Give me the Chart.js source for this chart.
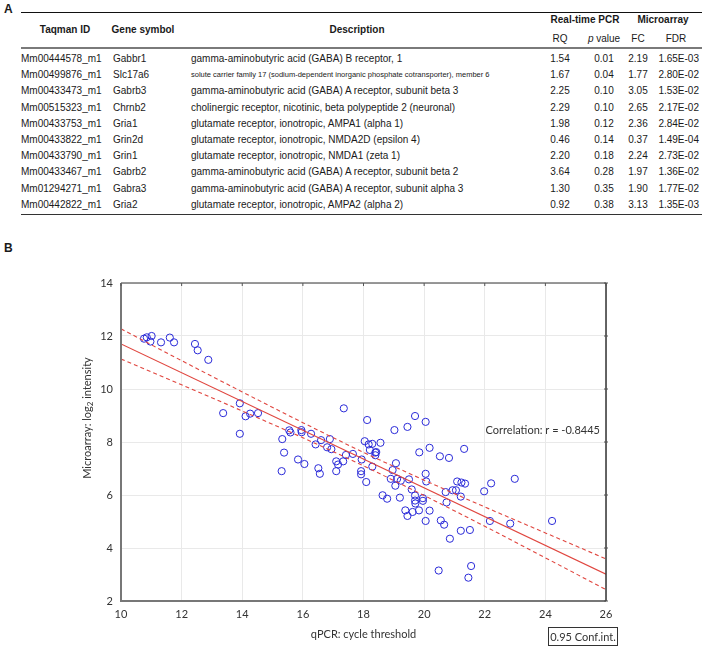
<!DOCTYPE html>
<html><head><meta charset="utf-8">
<script src="https://cdn.jsdelivr.net/npm/chart.js@4.4.1/dist/chart.umd.min.js"></script>
<style>
body{margin:0;width:705px;height:648px;position:relative;background:#fff;font-family:"Liberation Sans",Arial,sans-serif;color:#1a1a1a;overflow:hidden}
.t{position:absolute;font-size:10px;line-height:12px;white-space:nowrap}
.b{font-weight:bold}
.rule{position:absolute;left:21px;width:681px}
#wrap{position:absolute;left:0;top:250px;width:705px;height:398px}
</style></head><body>
<div id="tbl"></div>
<div id="wrap"><canvas id="c" width="705" height="398"></canvas></div>
<script>
// ---------- Table data ----------
const taqmanIds = ["Mm00444578_m1","Mm00499876_m1","Mm00433473_m1","Mm00515323_m1","Mm00433753_m1","Mm00433822_m1","Mm00433790_m1","Mm00433467_m1","Mm01294271_m1","Mm00442822_m1"];
const geneSymbols = ["Gabbr1","Slc17a6","Gabrb3","Chrnb2","Gria1","Grin2d","Grin1","Gabrb2","Gabra3","Gria2"];
const descriptions = [
 "gamma-aminobutyric acid (GABA) B receptor, 1",
 "solute carrier family 17 (sodium-dependent inorganic phosphate cotransporter), member 6",
 "gamma-aminobutyric acid (GABA) A receptor, subunit beta 3",
 "cholinergic receptor, nicotinic, beta polypeptide 2 (neuronal)",
 "glutamate receptor, ionotropic, AMPA1 (alpha 1)",
 "glutamate receptor, ionotropic, NMDA2D (epsilon 4)",
 "glutamate receptor, ionotropic, NMDA1 (zeta 1)",
 "gamma-aminobutyric acid (GABA) A receptor, subunit beta 2",
 "gamma-aminobutyric acid (GABA) A receptor, subunit alpha 3",
 "glutamate receptor, ionotropic, AMPA2 (alpha 2)"];
const rqValues = ["1.54","1.67","2.25","2.29","1.98","0.46","2.20","3.64","1.30","0.92"];
const pValues = ["0.01","0.04","0.10","0.10","0.12","0.14","0.18","0.28","0.35","0.38"];
const fcValues = ["2.19","1.77","3.05","2.65","2.36","0.37","2.24","1.97","1.90","3.13"];
const fdrValues = ["1.65E-03","2.80E-02","1.53E-02","2.17E-02","2.84E-02","1.49E-04","2.73E-02","1.36E-02","1.77E-02","1.35E-03"];

// ---------- Scatter data ----------
const qpcrCt = [10.76,10.85,11.01,10.97,11.32,11.61,11.75,12.44,12.53,12.88,
 13.37,13.92,13.92,14.11,14.26,14.52,15.30,15.32,15.38,15.55,15.59,15.84,15.95,15.96,16.05,16.27,16.42,16.51,16.56,16.60,
 16.80,16.89,16.94,17.10,17.10,17.16,17.33,17.35,17.42,17.65,17.94,17.92,17.92,18.04,18.09,18.12,18.17,18.21,18.29,18.29,
 18.39,18.39,18.42,18.56,19.02,19.45,20.05,19.70,19.07,18.96,18.90,18.63,18.78,19.11,19.23,19.05,19.20,19.50,19.59,19.84,
 20.05,20.07,20.18,19.70,19.70,19.71,19.96,19.96,19.38,19.45,19.62,19.83,20.18,20.05,20.52,20.82,21.32,20.55,20.66,20.71,
 20.74,20.85,20.94,21.05,21.09,21.23,21.35,21.21,21.21,21.51,21.98,22.21,22.17,22.84,22.99,24.22,20.48,21.55,21.46];
const microarrayLog2 = [11.90,11.95,12.00,11.79,11.76,11.94,11.76,11.70,11.46,11.10,
 9.09,9.46,8.31,8.97,9.07,9.09,6.90,8.11,7.60,8.44,8.36,7.34,8.45,8.37,7.17,8.31,7.91,7.01,6.80,8.07,
 7.80,8.11,7.73,7.27,6.90,7.15,7.27,9.27,7.51,7.55,7.34,6.90,6.78,8.03,6.49,8.83,7.91,7.70,7.93,7.07,
 7.60,7.50,7.62,7.97,8.45,8.57,8.76,8.98,7.20,6.94,6.61,5.99,5.86,6.61,6.54,6.35,5.90,6.59,6.21,7.61,
 6.80,6.51,7.78,5.98,5.79,5.68,5.88,5.78,5.42,5.21,5.36,5.42,5.41,5.02,7.46,7.40,7.74,5.04,4.88,6.11,
 5.72,4.35,6.18,6.18,6.51,6.47,6.43,5.94,4.65,4.68,6.14,6.44,5.02,4.92,6.61,5.02,3.15,3.32,2.88];
const fitX = [10, 26];
const fitY = [11.70, 3.01];
const bandX = [10,12,14,16,18,20,22,24,26];
const bandUpper = [12.27,11.07,9.89,8.73,7.61,6.56,5.55,4.57,3.59];
const bandLower = [11.13,10.16,9.17,8.16,7.10,5.98,4.82,3.63,2.43];
const xTicks = [10,12,14,16,18,20,22,24,26];
const yTicks = [2,4,6,8,10,12,14];
const correlationLabel = "Correlation: r = -0.8445";
const legendLabel = "0.95 Conf.int.";
const xTitle = "qPCR: cycle threshold";
const yTitleParts = ["Microarray: log", "2", " intensity"];

// ---------- Build table ----------
const tbl = document.getElementById('tbl');
function addText(html, x, y, align, cls, style){
  const d = document.createElement('div');
  d.className = 't ' + (cls||'');
  d.innerHTML = html;
  let tx = align==='center' ? '-50%' : (align==='right' ? '-100%' : '0');
  d.style.left = x + 'px'; d.style.top = y + 'px';
  d.style.transform = `translate(${tx},-50%)`;
  if (style) Object.assign(d.style, style);
  tbl.appendChild(d);
}
function addRule(y, h, color){
  const d = document.createElement('div');
  d.className='rule'; d.style.top = y+'px'; d.style.height = h+'px'; d.style.background = color;
  tbl.appendChild(d);
}
addText('A', 4, 9, 'left', 'b', {fontSize:'12px'});
addText('B', 4, 248, 'left', 'b', {fontSize:'12px'});
addRule(12, 1.3, '#111');
addText('Taqman ID', 65, 30, 'center', 'b');
addText('Gene symbol', 143, 30, 'center', 'b');
addText('Description', 357, 30, 'center', 'b');
addText('Real-time PCR', 585, 20, 'center', 'b');
addText('Microarray', 663, 20, 'center', 'b');
addText('RQ', 560, 39, 'center');
addText('<i>p</i> value', 604, 39, 'center');
addText('FC', 638, 39, 'center');
addText('FDR', 676, 39, 'center');
addRule(46.5, 2, '#7a7a7a');
const rowY0 = 59, rowDY = 16.2;
for (let i=0;i<taqmanIds.length;i++){
  const y = rowY0 + i*rowDY;
  addText(taqmanIds[i], 21, y, 'left');
  addText(geneSymbols[i], 113, y, 'left');
  addText(descriptions[i], 191, y, 'left', '', i===1?{fontSize:'7.5px'}:null);
  addText(rqValues[i], 560, y, 'center');
  addText(pValues[i], 604, y, 'center');
  addText(fcValues[i], 638, y, 'center');
  addText(fdrValues[i], 699, y, 'right');
}
addRule(rowY0 + 9*rowDY + 9, 1.6, '#333');

// ---------- Chart ----------
const FONT = 'Lato, "Open Sans", sans-serif';
const decor = {
  id: 'decor',
  afterDraw(chart){
    const {ctx, chartArea:a, scales:{x, y}} = chart;
    ctx.save();
    // frame
    ctx.lineWidth = 2; ctx.strokeStyle = '#777';
    ctx.beginPath(); ctx.moveTo(a.left, a.top); ctx.lineTo(a.left, a.bottom); ctx.lineTo(a.right, a.bottom); ctx.stroke();
    ctx.lineWidth = 1.5;
    ctx.beginPath(); ctx.moveTo(a.left, a.top); ctx.lineTo(a.right, a.top); ctx.stroke();
    ctx.strokeStyle = '#333';
    ctx.beginPath(); ctx.moveTo(a.right, a.top); ctx.lineTo(a.right, a.bottom); ctx.stroke();
    // small ticks on top and right edges
    ctx.lineWidth = 1;
    ctx.strokeStyle = '#555';
    xTicks.forEach(v => { const px = x.getPixelForValue(v); ctx.beginPath(); ctx.moveTo(px, a.top); ctx.lineTo(px, a.top+3); ctx.stroke(); });
    yTicks.forEach(v => { const py = y.getPixelForValue(v); ctx.beginPath(); ctx.moveTo(a.right-2, py); ctx.lineTo(a.right+2, py); ctx.stroke(); });
    // correlation label
    ctx.font = '11px ' + FONT; ctx.fillStyle = '#333'; ctx.textAlign = 'right'; ctx.textBaseline = 'middle';
    ctx.fillText(correlationLabel, x.getPixelForValue(25.8), y.getPixelForValue(8.45));
    // x title
    ctx.textAlign = 'center';
    ctx.fillText(xTitle, (a.left + a.right)/2, a.bottom + 33);
    // y title (rotated, with subscript)
    ctx.translate(87, 168);
    ctx.rotate(-Math.PI/2);
    ctx.textAlign = 'left';
    const f1 = '11px ' + FONT, f2 = '8px ' + FONT;
    ctx.font = f1; const w1 = ctx.measureText(yTitleParts[0]).width, w3 = ctx.measureText(yTitleParts[2]).width;
    ctx.font = f2; const w2 = ctx.measureText(yTitleParts[1]).width;
    let sx = -(w1 + w2 + w3)/2;
    ctx.font = f1; ctx.fillText(yTitleParts[0], sx, 0); sx += w1;
    ctx.font = f2; ctx.fillText(yTitleParts[1], sx, 3); sx += w2;
    ctx.font = f1; ctx.fillText(yTitleParts[2], sx, 0);
    ctx.restore();
    // legend box
    ctx.save();
    const bx = 548.5, by = 627.5 - 250, bw = 69, bh = 18;
    ctx.strokeStyle = '#333'; ctx.lineWidth = 1;
    ctx.strokeRect(bx, by, bw, bh);
    ctx.font = '11px ' + FONT; ctx.fillStyle = '#333'; ctx.textAlign = 'center'; ctx.textBaseline = 'middle';
    ctx.fillText(legendLabel, bx + bw/2, by + bh/2 + 0.5);
    ctx.restore();
  }
};

const red = '#e0463f';
new Chart(document.getElementById('c'), {
  type: 'scatter',
  data: {
    datasets: [
      { label: 'fit', data: fitX.map((v,i)=>({x:v, y:fitY[i]})), showLine: true, borderColor: red, borderWidth: 1.2, pointRadius: 0, fill: false },
      { label: 'upper', data: bandX.map((v,i)=>({x:v, y:bandUpper[i]})), showLine: true, borderColor: red, borderWidth: 1.1, borderDash: [4,3], pointRadius: 0, cubicInterpolationMode: 'monotone', fill: false },
      { label: 'lower', data: bandX.map((v,i)=>({x:v, y:bandLower[i]})), showLine: true, borderColor: red, borderWidth: 1.1, borderDash: [4,3], pointRadius: 0, cubicInterpolationMode: 'monotone', fill: false },
      { label: 'genes', data: qpcrCt.map((v,i)=>({x:v, y:microarrayLog2[i]})), showLine: false, pointStyle: 'circle', pointRadius: 3.6, borderColor: '#2a2ad8', backgroundColor: 'rgba(0,0,0,0)', borderWidth: 1 }
    ]
  },
  options: {
    responsive: false, animation: false, devicePixelRatio: 1,
    layout: { padding: { left: 0, right: 99, top: 33, bottom: 25 } },
    plugins: { legend: { display: false }, tooltip: { enabled: false } },
    scales: {
      x: { type: 'linear', min: 10, max: 26,
        afterBuildTicks: s => { s.ticks = xTicks.map(v=>({value:v})); },
        afterFit: s => { s.height = 22; },
        grid: { color: '#e9e9e9', drawTicks: false, lineWidth: 1 }, border: { display: false },
        ticks: { color: '#333', font: { family: FONT, size: 11 }, padding: 7, maxRotation: 0 } },
      y: { type: 'linear', min: 2, max: 14,
        afterBuildTicks: s => { s.ticks = yTicks.map(v=>({value:v})); },
        afterFit: s => { s.width = 121; },
        grid: { color: '#e9e9e9', drawTicks: false, lineWidth: 1 }, border: { display: false },
        ticks: { color: '#333', font: { family: FONT, size: 11 }, padding: 8 } }
    }
  },
  plugins: [decor]
});
</script>
</body></html>
